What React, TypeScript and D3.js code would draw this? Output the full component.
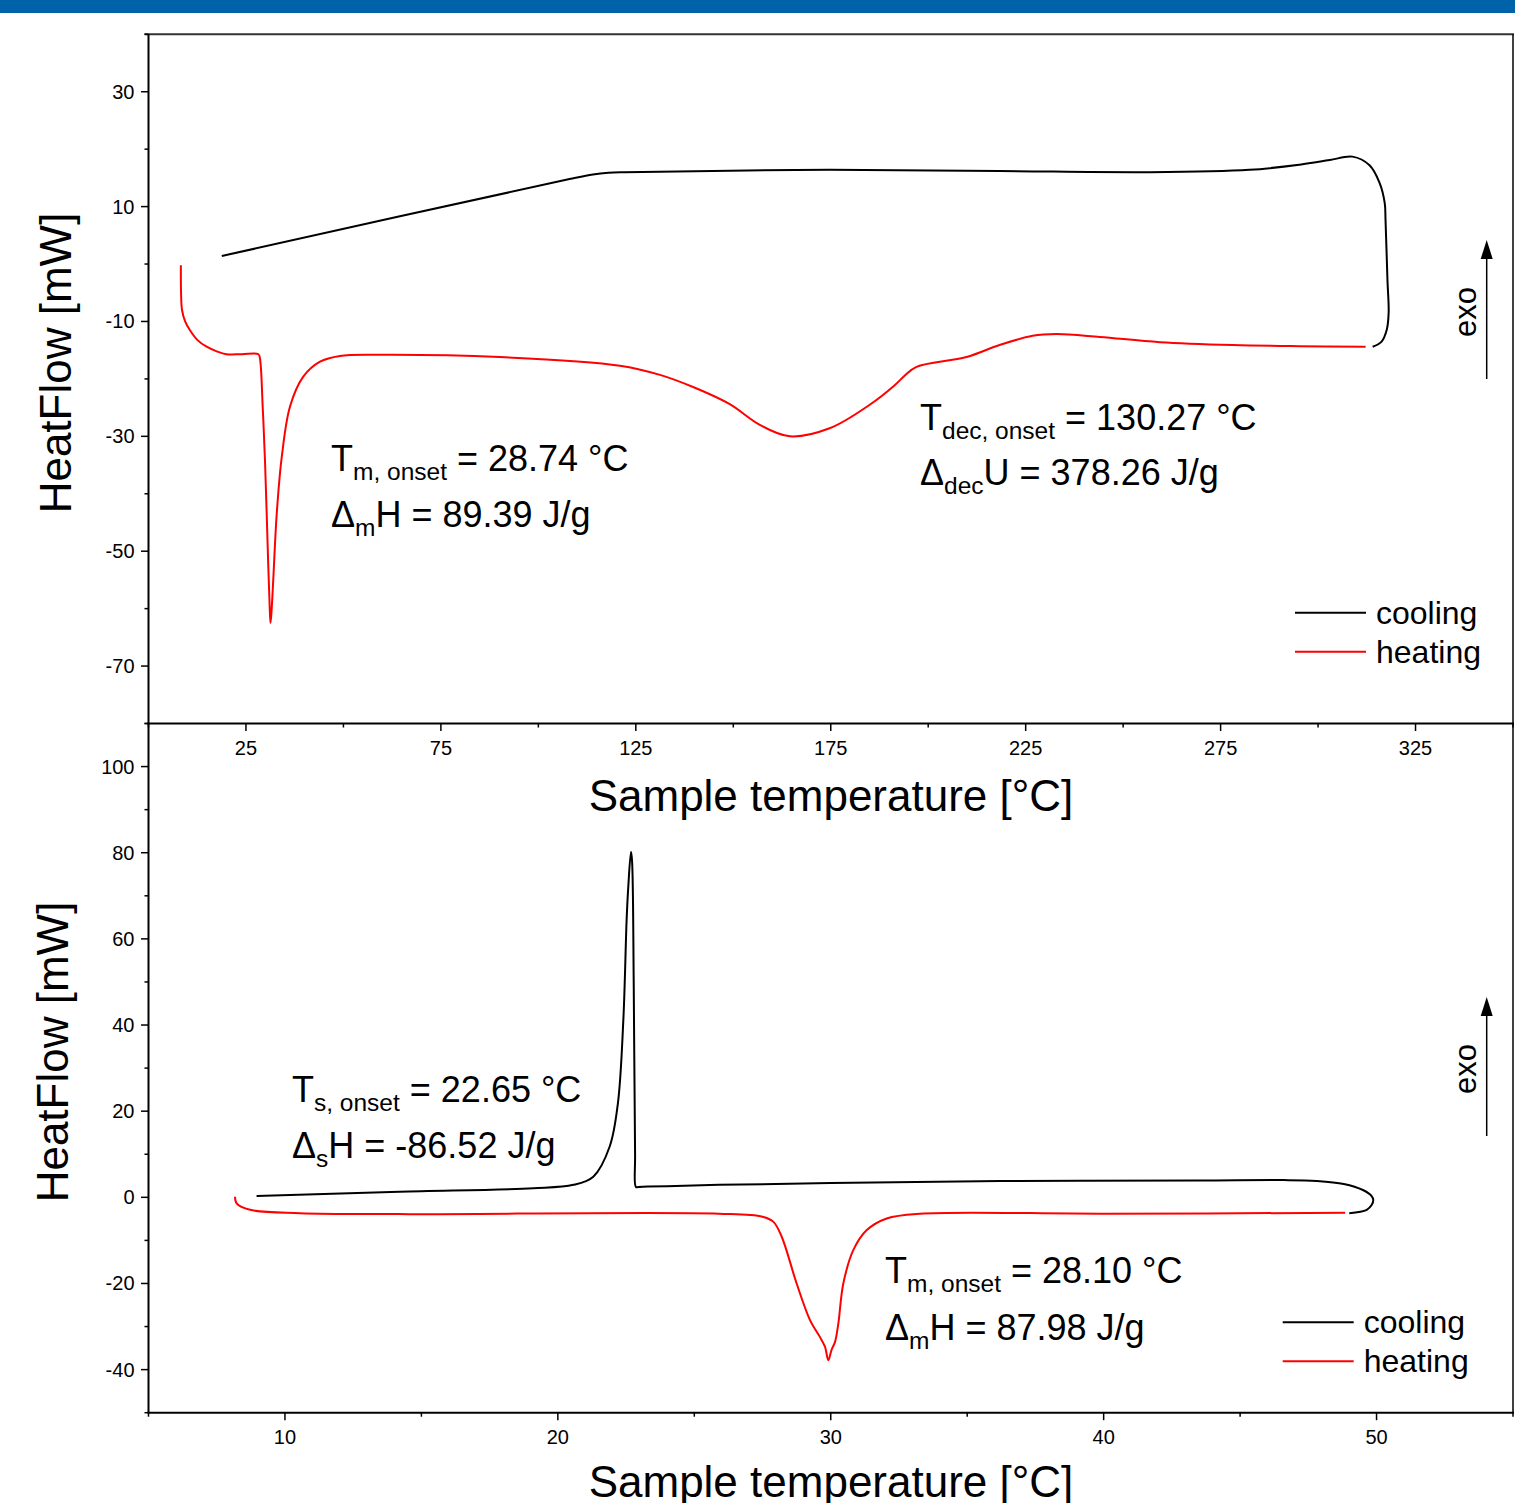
import React from "react";
import * as d3 from "d3";

// ---- top panel: 0..350 °C run ----
const topXMajor = [25, 75, 125, 175, 225, 275, 325];
const topXMinor = [0, 50, 100, 150, 200, 250, 300, 350];
const topYMajor = [30, 10, -10, -30, -50, -70];
const topYMinor = [40, 20, 0, -20, -40, -60, -80];

// cooling goes from the hot end back to room temp
const topCoolT = [314.0, 316.3, 317.6, 318.1, 317.8, 317.3, 317.1, 315.8, 313.2, 308.8, 303.0, 295.3, 282.4, 256.8, 218.3, 174.7, 122.0, 118.0, 114.0, 108.0, 18.8];
const topCoolHF = [-14.4, -13.5, -11.5, -8.5, -2.8, 7.7, 10.6, 14.1, 17.2, 18.7, 18.1, 17.3, 16.4, 16.0, 16.2, 16.4, 16.0, 15.9, 15.6, 14.8, 1.4];

const topHeatT = [8.3, 8.35, 8.6, 9.4, 10.6, 12.5, 14.9, 17.5, 20.0, 24.0, 28.2, 28.6, 29.3, 29.9, 30.7, 31.1, 31.3, 31.6, 32.0, 32.9, 34.2, 36.3, 39.7, 44.0, 49.1, 59.4, 90.1, 120.9, 131.2, 140.0, 149.1, 156.8, 164.5, 174.7, 185.0, 191.4, 194.0, 197.0, 209.8, 218.3, 226.8, 232.9, 244.0, 259.4, 278.1, 295.3, 312.2];
const topHeatHF = [-0.2, -5.0, -8.0, -10.0, -11.5, -13.2, -14.4, -15.2, -15.7, -15.7, -15.7, -16.5, -25.0, -34.6, -52.1, -60.0, -62.5, -60.0, -55.0, -43.4, -33.5, -24.8, -19.6, -17.0, -16.0, -15.8, -16.2, -17.7, -19.3, -21.5, -24.4, -28.0, -30.0, -28.6, -24.5, -21.1, -19.4, -17.9, -16.2, -14.1, -12.5, -12.2, -12.7, -13.6, -14.1, -14.3, -14.4];

// ---- bottom panel: 5..55 °C run ----
const botXMajor = [10, 20, 30, 40, 50];
const botXMinor = [5, 15, 25, 35, 45, 55];
const botYMajor = [100, 80, 60, 40, 20, 0, -20, -40];
const botYMinor = [110, 90, 70, 50, 30, 10, -10, -30, -50];

const botCoolT = [49.0, 49.64, 49.82, 49.88, 49.82, 49.5, 48.8, 47.8, 46.6, 43.5, 36.2, 30.0, 25.9, 24.0, 23.3, 22.95, 22.86, 22.83, 22.78, 22.72, 22.68, 22.58, 22.52, 22.4, 22.2, 21.9, 21.3, 20.57, 19.1, 14.2, 8.96];
const botCoolHF = [-3.7, -2.9, -1.8, -0.6, 0.3, 1.7, 3.1, 3.8, 4.0, 3.9, 3.8, 3.3, 2.9, 2.6, 2.5, 2.4, 2.4, 10, 50, 78, 80.2, 72, 64.4, 41.2, 21.8, 11.8, 4.8, 2.9, 2.1, 1.3, 0.3];

const botHeatT = [8.17, 8.23, 8.72, 10.55, 14.2, 25.9, 27.5, 27.9, 28.2, 28.75, 29.24, 29.6, 29.79, 29.91, 30.03, 30.16, 30.28, 30.46, 30.83, 31.32, 32.05, 33.27, 40.0, 48.85];
const botHeatHF = [0.15, -1.4, -2.9, -3.7, -3.9, -3.8, -4.5, -5.7, -9.1, -20, -28.5, -32.4, -34.7, -37.8, -35.4, -33.5, -29.2, -20.0, -12.2, -7.6, -4.9, -3.8, -3.8, -3.6];

const FONT = "'Liberation Sans', Arial, Helvetica, sans-serif";
const LEFT = 148.5;
const RIGHT = 1513;

const zip = (xs: number[], ys: number[]) => xs.map((x, i) => [x, ys[i]] as [number, number]);

type PanelProps = {
  xDomain: [number, number];
  yDomain: [number, number];
  top: number;
  bottom: number;
  xMajor: number[];
  xMinor: number[];
  yMajor: number[];
  yMinor: number[];
  cool: [number, number][];
  heat: [number, number][];
};

const Panel = ({ xDomain, yDomain, top, bottom, xMajor, xMinor, yMajor, yMinor, cool, heat }: PanelProps) => {
  const x = d3.scaleLinear().domain(xDomain).range([LEFT, RIGHT]);
  const y = d3.scaleLinear().domain(yDomain).range([bottom, top]);
  const line = d3
    .line<[number, number]>()
    .x((d) => x(d[0]))
    .y((d) => y(d[1]))
    .curve(d3.curveCatmullRom.alpha(0.5));

  return (
    <g>
      {/* curves */}
      <path d={line(cool) || ""} fill="none" stroke="#000" strokeWidth={2} />
      <path d={line(heat) || ""} fill="none" stroke="#ff0000" strokeWidth={2} />

      {/* y ticks */}
      {yMajor.map((v) => (
        <g key={"ym" + v}>
          <line x1={LEFT - 7.5} x2={LEFT} y1={y(v)} y2={y(v)} stroke="#000" strokeWidth={1.5} />
          <text x={LEFT - 14} y={y(v)} dy="0.35em" textAnchor="end" fontSize={20}>
            {v}
          </text>
        </g>
      ))}
      {yMinor.map((v) => (
        <line key={"yn" + v} x1={LEFT - 4} x2={LEFT} y1={y(v)} y2={y(v)} stroke="#000" strokeWidth={1.5} />
      ))}

      {/* x ticks */}
      {xMajor.map((v) => (
        <g key={"xm" + v}>
          <line x1={x(v)} x2={x(v)} y1={bottom} y2={bottom + 7.5} stroke="#000" strokeWidth={1.5} />
          <text x={x(v)} y={bottom + 31.5} textAnchor="middle" fontSize={20}>
            {v}
          </text>
        </g>
      ))}
      {xMinor.map((v) => (
        <line key={"xn" + v} x1={x(v)} x2={x(v)} y1={bottom} y2={bottom + 4} stroke="#000" strokeWidth={1.5} />
      ))}

      {/* frame */}
      <line x1={LEFT} x2={LEFT} y1={top} y2={bottom} stroke="#000" strokeWidth={2} />
      <line x1={LEFT - 1} x2={RIGHT + 1} y1={bottom} y2={bottom} stroke="#000" strokeWidth={2} />
      <line x1={RIGHT} x2={RIGHT} y1={top} y2={bottom} stroke="#000" strokeWidth={1.5} />
    </g>
  );
};

const Annot = ({ x, y, main, sub, rest }: { x: number; y: number; main: string; sub: string; rest: string }) => (
  <text x={x} y={y} fontSize={36}>
    {main}
    <tspan fontSize={24.5} dy={9}>
      {sub}
    </tspan>
    <tspan dy={-9}>{rest}</tspan>
  </text>
);

const Legend = ({ x, y }: { x: number; y: number }) => (
  <g fontSize={32}>
    <line x1={x} x2={x + 71} y1={y} y2={y} stroke="#000" strokeWidth={2} />
    <text x={x + 81} y={y + 11}>cooling</text>
    <line x1={x} x2={x + 71} y1={y + 39} y2={y + 39} stroke="#ff0000" strokeWidth={2} />
    <text x={x + 81} y={y + 50}>heating</text>
  </g>
);

const Exo = ({ cy }: { cy: number }) => (
  <g>
    <line x1={1486.7} x2={1486.7} y1={cy + 67} y2={cy - 55} stroke="#000" strokeWidth={1.5} />
    <path d={`M${1486.7},${cy - 72} L${1480.7},${cy - 53} L${1492.7},${cy - 53} Z`} fill="#000" />
    <text transform={`translate(1476,${cy}) rotate(-90)`} textAnchor="middle" fontSize={31}>
      exo
    </text>
  </g>
);

export default function App() {
  return (
    <div style={{ position: "absolute", left: 0, top: 0 }}>
      <svg width={1515} height={1503} style={{ display: "block", fontFamily: FONT }}>
        <rect x={0} y={0} width={1515} height={1503} fill="#fff" />
        <rect x={0} y={0} width={1515} height={13} fill="#0062a8" />
        <line x1={LEFT - 4} x2={RIGHT + 1} y1={34.3} y2={34.3} stroke="#333" strokeWidth={2} />

        <Panel
          xDomain={[0, 350]}
          yDomain={[-80, 40]}
          top={34.3}
          bottom={723.5}
          xMajor={topXMajor}
          xMinor={topXMinor}
          yMajor={topYMajor}
          yMinor={topYMinor}
          cool={zip(topCoolT, topCoolHF)}
          heat={zip(topHeatT, topHeatHF)}
        />
        <Panel
          xDomain={[5, 55]}
          yDomain={[-50, 110]}
          top={723.5}
          bottom={1412.7}
          xMajor={botXMajor}
          xMinor={botXMinor}
          yMajor={botYMajor}
          yMinor={botYMinor}
          cool={zip(botCoolT, botCoolHF)}
          heat={zip(botHeatT, botHeatHF)}
        />

        {/* axis titles */}
        <text x={831} y={811} textAnchor="middle" fontSize={44}>Sample temperature [°C]</text>
        <text x={831} y={1497} textAnchor="middle" fontSize={44}>Sample temperature [°C]</text>
        <text transform="translate(71,363) rotate(-90)" textAnchor="middle" fontSize={44}>HeatFlow [mW]</text>
        <text transform="translate(68,1052) rotate(-90)" textAnchor="middle" fontSize={44}>HeatFlow [mW]</text>

        {/* annotations */}
        <Annot x={331} y={471} main="T" sub="m, onset" rest=" = 28.74 °C" />
        <Annot x={331} y={527} main="Δ" sub="m" rest="H = 89.39 J/g" />
        <Annot x={920} y={430} main="T" sub="dec, onset" rest=" = 130.27 °C" />
        <Annot x={920} y={485} main="Δ" sub="dec" rest="U = 378.26 J/g" />
        <Annot x={292} y={1102} main="T" sub="s, onset" rest=" = 22.65 °C" />
        <Annot x={292} y={1158} main="Δ" sub="s" rest="H = -86.52 J/g" />
        <Annot x={885} y={1283} main="T" sub="m, onset" rest=" = 28.10 °C" />
        <Annot x={885} y={1340} main="Δ" sub="m" rest="H = 87.98 J/g" />

        <Legend x={1295} y={612.7} />
        <Legend x={1282.7} y={1322.3} />
        <Exo cy={312} />
        <Exo cy={1069} />
      </svg>
    </div>
  );
}
